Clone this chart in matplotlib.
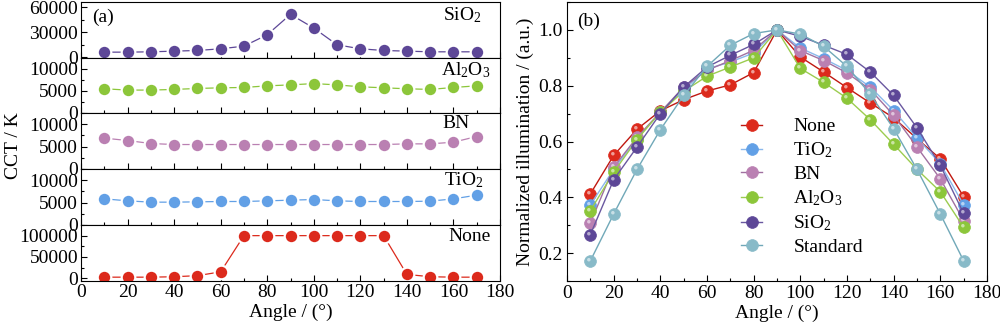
import numpy as np
import matplotlib
matplotlib.use("Agg")
import matplotlib.pyplot as plt
from matplotlib.path import Path
from matplotlib.ticker import MultipleLocator
from matplotlib.legend_handler import HandlerTuple

plt.rcParams['font.family'] = ['Liberation Serif', 'DejaVu Serif']
plt.rcParams['mathtext.fontset'] = 'custom'
plt.rcParams['mathtext.rm'] = 'Liberation Serif'
plt.rcParams['mathtext.it'] = 'Liberation Serif:italic'
FS = 14
plt.rcParams['font.size'] = FS

# ---------------- data ----------------
angles = [10, 20, 30, 40, 50, 60, 70, 80, 90, 100, 110, 120, 130, 140, 150, 160, 170]

cct_sio2 = [6000, 6000, 6400, 7200, 8000, 10000, 13200, 26800, 51200, 34800, 14800, 10000, 8000, 7200, 6400, 6400, 6400]
cct_al2o3 = [5450, 5150, 5150, 5300, 5520, 5670, 5750, 6120, 6340, 6640, 6340, 5900, 5670, 5450, 5300, 5750, 6120]
cct_bn = [6900, 6360, 5680, 5450, 5450, 5450, 5450, 5450, 5450, 5450, 5450, 5450, 5450, 5600, 5600, 5980, 7270]
cct_tio2 = [5830, 5380, 5080, 5080, 5150, 5230, 5230, 5380, 5530, 5680, 5380, 5230, 5230, 5230, 5300, 5830, 6670]
cct_none = [2500, 2500, 2500, 3500, 6000, 15000, 100000, 100000, 100000, 100000, 100000, 100000, 100000, 9000, 3500, 2500, 2500]

ill_none = [0.412, 0.550, 0.644, 0.710, 0.750, 0.781, 0.803, 0.847, 1.0, 0.903, 0.849, 0.793, 0.738, 0.685, 0.610, 0.538, 0.402]
ill_tio2 = [0.373, 0.500, 0.610, 0.705, 0.785, 0.860, 0.885, 0.917, 1.0, 0.935, 0.897, 0.855, 0.795, 0.711, 0.613, 0.520, 0.373]
ill_bn = [0.307, 0.508, 0.615, 0.705, 0.795, 0.855, 0.890, 0.927, 1.0, 0.926, 0.890, 0.846, 0.786, 0.694, 0.580, 0.466, 0.316]
ill_al2o3 = [0.352, 0.490, 0.607, 0.705, 0.780, 0.834, 0.867, 0.900, 1.0, 0.862, 0.812, 0.755, 0.678, 0.590, 0.500, 0.420, 0.292]
ill_sio2 = [0.266, 0.463, 0.580, 0.700, 0.795, 0.867, 0.909, 0.948, 1.0, 0.977, 0.945, 0.912, 0.849, 0.765, 0.649, 0.514, 0.342]
ill_std = [0.172, 0.340, 0.500, 0.642, 0.765, 0.869, 0.945, 0.987, 1.0, 0.985, 0.941, 0.869, 0.769, 0.646, 0.500, 0.340, 0.172]

names = ['None', 'TiO$_2$', 'BN', 'Al$_2$O$_3$', 'SiO$_2$', 'Standard']

c_none = '#dc2a1c'
c_tio2 = '#62a0e6'
c_bn = '#ba80b2'
c_al = '#8cc63a'
c_sio2 = '#5d4797'
c_std = '#88bac8'

fig = plt.figure(figsize=(10, 3.34), dpi=100)

W, H = 1000.0, 334.0
def fx(p):
    return p / W
def fy(p):
    return 1 - p / H

# ---------------- panel (a) ----------------
a_left, a_right = 81, 500
bounds = [2, 58, 113, 169, 225, 281]
sub = [
    ('SiO$_2$', cct_sio2, c_sio2, (-1000, 66000), 30000, 15000, 0.957, 0.77),
    ('Al$_2$O$_3$', cct_al2o3, c_al, (-100, 12500), 5000, 2500, 0.978, 0.78),
    ('BN', cct_bn, c_bn, (-100, 12600), 5000, 2500, 0.928, 0.82),
    ('TiO$_2$', cct_tio2, c_tio2, (-100, 12600), 5000, 2500, 0.960, 0.80),
    ('None', cct_none, c_none, (-6500, 125000), 50000, 25000, 0.978, 0.80),
]
axes_a = []
for i, (lab, vals, col, yl, maj, mnr, tx, ty) in enumerate(sub):
    top, bot = bounds[i], bounds[i + 1]
    ax = fig.add_axes([fx(a_left), fy(bot), fx(a_right - a_left), (bot - top) / H])
    ax.plot(angles, vals, '-', color=col, lw=0.9, marker='o', ms=9.8,
            mfc=col, mec='white', mew=1.6)
    ax.set_xlim(0, 180)
    ax.set_ylim(*yl)
    ax.yaxis.set_major_locator(MultipleLocator(maj))
    ax.yaxis.set_minor_locator(MultipleLocator(mnr))
    ax.xaxis.set_major_locator(MultipleLocator(20))
    ax.xaxis.set_minor_locator(MultipleLocator(10))
    ax.tick_params(which='both', direction='in', top=False, right=False, labelsize=FS, pad=2)
    ax.tick_params(which='major', length=4.5, width=0.8)
    ax.tick_params(which='minor', length=2.5, width=0.8)
    if i < 4:
        ax.tick_params(labelbottom=False)
    ax.text(tx, ty, lab, transform=ax.transAxes, ha='right', va='center', fontsize=FS)
    for s in ax.spines.values():
        s.set_linewidth(0.8)
    axes_a.append(ax)

axes_a[0].text(0.052, 0.73, '(a)', transform=axes_a[0].transAxes, ha='center', va='center', fontsize=FS)
axes_a[-1].set_xlabel('Angle / (°)', fontsize=FS, labelpad=2)
fig.text(0.014, fy(146), 'CCT / K', rotation=90, ha='center', va='center', fontsize=FS)

# ---------------- panel (b) ----------------
b_left, b_right = 567, 987
axb = fig.add_axes([fx(b_left), fy(281), fx(b_right - b_left), (281 - 2) / H])

hl_verts = [(-1, -1), (1, 1)]
hl_codes = [Path.MOVETO, Path.MOVETO]
theta = np.linspace(0, 2 * np.pi, 25)
cx, cy, r = -0.28, 0.30, 0.30
circ = [(cx + r * np.cos(t), cy + r * np.sin(t)) for t in theta]
hl_verts += circ
hl_codes += [Path.MOVETO] + [Path.LINETO] * (len(circ) - 2) + [Path.CLOSEPOLY]
hl_marker = Path(hl_verts, hl_codes)

series_b = [
    (ill_none, c_none, '#c01810'),
    (ill_tio2, c_tio2, '#8ab8ec'),
    (ill_bn, c_bn, '#a070a0'),
    (ill_al2o3, c_al, '#9ccc50'),
    (ill_sio2, c_sio2, '#6a58a0'),
    (ill_std, c_std, '#70a8b8'),
]
handles = []
for (vals, col, lcol), nm in zip(series_b, names):
    ln, = axb.plot(angles, vals, '-', color=lcol, lw=1.0, marker='o', ms=8.5,
                   mfc=col, mec=col, mew=0.5)
    hl, = axb.plot(angles, vals, linestyle='none', marker=hl_marker, ms=8.5,
                   mfc='white', mec='none', alpha=0.55)
    handles.append((ln, hl))

axb.set_xlim(0, 180)
axb.set_ylim(0.1, 1.1)
axb.xaxis.set_major_locator(MultipleLocator(20))
axb.xaxis.set_minor_locator(MultipleLocator(10))
axb.yaxis.set_major_locator(MultipleLocator(0.2))
axb.yaxis.set_minor_locator(MultipleLocator(0.1))
axb.tick_params(which='both', direction='in', top=False, right=False, labelsize=FS, pad=3)
axb.tick_params(which='major', length=4.5, width=0.8)
axb.tick_params(which='minor', length=2.5, width=0.8)
for s in axb.spines.values():
    s.set_linewidth(0.8)
axb.set_xlabel('Angle / (°)', fontsize=FS, labelpad=2)
axb.set_ylabel('Normalized illumination / (a.u.)', fontsize=FS, labelpad=3)
axb.text(0.052, 0.93, '(b)', transform=axb.transAxes, ha='center', va='center', fontsize=FS)

axb.legend(handles, names, handler_map={tuple: HandlerTuple(ndivide=None)},
           loc='upper left', bbox_to_anchor=(0.414, 0.585), frameon=False,
           borderpad=0, borderaxespad=0, handlelength=2.2, handletextpad=0.5,
           labelspacing=0.27, fontsize=FS)

fig.savefig('out.png', dpi=100)
